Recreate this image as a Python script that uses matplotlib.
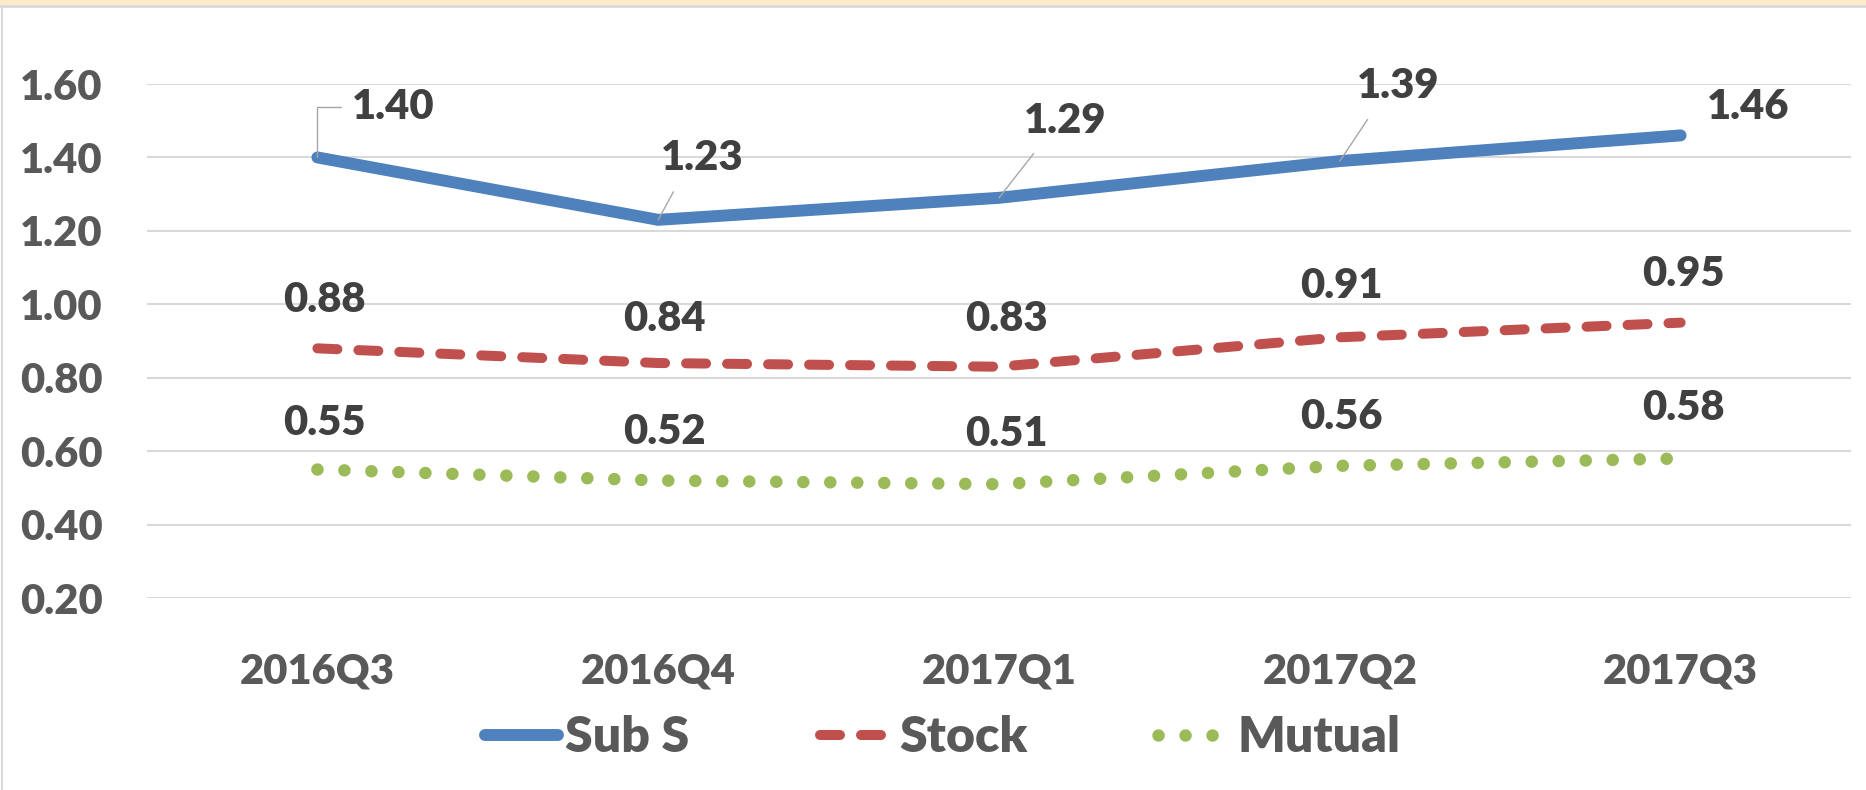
import matplotlib
matplotlib.use('Agg')
import matplotlib.pyplot as plt
from matplotlib.patches import Rectangle
from matplotlib.lines import Line2D

# data
quarters = ['2016Q3', '2016Q4', '2017Q1', '2017Q2', '2017Q3']
sub_s = [1.40, 1.23, 1.29, 1.39, 1.46]
stock = [0.88, 0.84, 0.83, 0.91, 0.95]
mutual = [0.55, 0.52, 0.51, 0.56, 0.58]
y_ticks = [0.20, 0.40, 0.60, 0.80, 1.00, 1.20, 1.40, 1.60]

BLUE = '#4F81BD'
RED = '#C0504D'
GREEN = '#9BBB59'
GRID = '#D9D9D9'
AXTXT = '#595959'
LBLTXT = '#404040'
WEIGHT = 'heavy'

plt.rcParams['font.family'] = ['Lato', 'DejaVu Sans']
plt.rcParams['font.weight'] = WEIGHT

fig = plt.figure(figsize=(18.66, 7.9), dpi=100)
W, H = 1866, 790
ax = fig.add_axes([147 / W, 1 - 598 / H, (1851 - 147) / W, (598 - 84) / H])

x = list(range(len(quarters)))
ax.plot(x, sub_s, color=BLUE, lw=8.6, solid_capstyle='round',
        solid_joinstyle='round', label='Sub S', zorder=3, clip_on=False)
ax.plot(x, stock, color=RED, lw=7.2, linestyle=(0, (2.0, 2.1)),
        dash_capstyle='round', label='Stock', zorder=3, clip_on=False)
ax.plot(x, mutual, color=GREEN, lw=9.0, linestyle=(0, (0.01, 2.15)),
        dash_capstyle='round', label='Mutual', zorder=3, clip_on=False)

ax.set_xlim(-0.5, len(quarters) - 0.5)
ax.set_ylim(0.2, 1.6)
ax.set_yticks(y_ticks)
ax.set_yticklabels(['%.2f' % v for v in y_ticks])
ax.set_xticks(x)
ax.set_xticklabels(quarters)
ax.yaxis.grid(True, color=GRID, lw=1.5)
ax.set_axisbelow(True)
for s in ax.spines.values():
    s.set_visible(False)
ax.tick_params(axis='x', length=0, pad=39, labelsize=30, labelcolor=AXTXT)
ax.tick_params(axis='y', length=0, pad=32, labelsize=30, labelcolor=AXTXT)
for t in ax.get_xticklabels() + ax.get_yticklabels():
    t.set_fontweight(WEIGHT)

# data labels (offsets in pixels)
sub_off = [(76, 50), (44, 62), (66, 77), (58, 75), (68, 28)]
stock_off = [(7, 48), (6, 44), (7, 48), (2, 51), (3, 49)]
mutual_off = [(7, 47), (6, 49), (7, 50), (2, 49), (3, 50)]

lead = dict(arrowstyle='-', color='#A6A6A6', lw=1.0, shrinkB=0)
for i, v in enumerate(sub_s):
    if i == 0:
        ap = dict(lead, connectionstyle='angle,angleA=0,angleB=90,rad=0',
                  relpos=(0, 0.5), shrinkA=6)
    elif i < 4:
        ap = dict(lead, relpos=(0.25, 0), shrinkA=10)
    else:
        ap = None
    ax.annotate('%.2f' % v, (i, v), xytext=sub_off[i], textcoords='offset pixels',
                ha='center', va='center', fontsize=30, fontweight=WEIGHT,
                color=LBLTXT, arrowprops=ap, annotation_clip=False)
for vals, offs in ((stock, stock_off), (mutual, mutual_off)):
    for i, v in enumerate(vals):
        ax.annotate('%.2f' % v, (i, v), xytext=offs[i], textcoords='offset pixels',
                    ha='center', va='center', fontsize=30, fontweight=WEIGHT,
                    color=LBLTXT, annotation_clip=False)

leg = fig.legend(loc='center', bbox_to_anchor=(943 / W, 1 - 738 / H), ncol=3,
                 frameon=False, fontsize=36, handlelength=1.45, handletextpad=0.15,
                 columnspacing=2.6, labelcolor=AXTXT)
for t in leg.get_texts():
    t.set_fontweight(WEIGHT)

# outer chart frame bits
fig.patches.append(Rectangle((0, 1 - 5 / H), 1, 5 / H, transform=fig.transFigure,
                             facecolor='#FCEBC8', edgecolor='none'))
fig.lines.append(Line2D([0, 1], [1 - 6 / H, 1 - 6 / H], transform=fig.transFigure,
                        color=GRID, lw=2))
fig.lines.append(Line2D([1.5 / W, 1.5 / W], [0, 1 - 6 / H], transform=fig.transFigure,
                        color=GRID, lw=1.5))

fig.savefig('out.png', dpi=100)
